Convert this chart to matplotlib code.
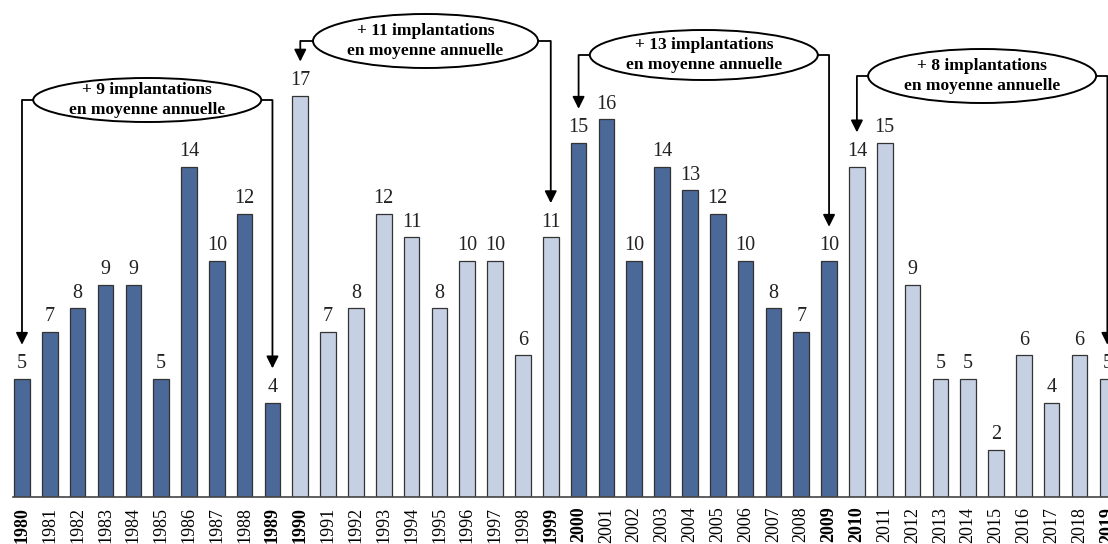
import matplotlib
matplotlib.use("Agg")
import matplotlib.pyplot as plt
from matplotlib.patches import Ellipse

years = list(range(1980, 2020))
values = [5, 7, 8, 9, 9, 5, 14, 10, 12, 4,
          17, 7, 8, 12, 11, 8, 10, 10, 6, 11,
          15, 16, 10, 14, 13, 12, 10, 8, 7, 10,
          14, 15, 9, 5, 5, 2, 6, 4, 6, 5]
bold_years = [1980, 1989, 1990, 1999, 2000, 2009, 2010, 2019]
period_labels = ["+ 9 implantations\nen moyenne annuelle",
                 "+ 11 implantations\nen moyenne annuelle",
                 "+ 13 implantations\nen moyenne annuelle",
                 "+ 8 implantations\nen moyenne annuelle"]
period_start = [1980, 1990, 2000, 2010]
period_end = [1989, 1999, 2009, 2019]

DARK = "#4A6898"
LIGHT = "#C5D0E2"

W, H = 1108, 544
fig = plt.figure(figsize=(W / 100, H / 100), dpi=100)
ax = fig.add_axes([0, 47 / H, 1, 497 / H])

px_per_x = 27.83
px_per_y = 23.6
x0 = -0.79
ax.set_xlim(x0, x0 + W / px_per_x)
ax.set_ylim(0, 497 / px_per_y)

idx = list(range(len(years)))
colors = [DARK if ((y - 1980) // 10) % 2 == 0 else LIGHT for y in years]
bars = ax.bar(idx, values, width=0.56, color=colors, edgecolor="#333333", linewidth=0.9, zorder=2)

for i, v in zip(idx, values):
    ax.annotate(str(v), (i, v), xytext=(0, 4), textcoords="offset points",
                ha="center", va="bottom", fontsize=14.5, family="Liberation Serif", color="#222222")

ax.set_xticks(idx)
ax.set_xticklabels([str(y) for y in years], rotation=90, family="Liberation Serif", fontsize=13)
for lab, y in zip(ax.get_xticklabels(), years):
    if y in bold_years:
        lab.set_fontweight("bold")
ax.tick_params(axis="x", length=0, pad=7)
ax.set_yticks([])
for s in ["left", "right", "top"]:
    ax.spines[s].set_visible(False)
ax.spines["bottom"].set_color("#444444")
ax.spines["bottom"].set_linewidth(1.2)
ax.spines["bottom"].set_bounds(-0.32, x0 + W / px_per_x)

# annotation geometry (pixel-based style settings)
ell_cy_px = [100, 41, 55, 76]
ell_w_px = [228, 225, 228, 228]
ell_h_px = [44, 54, 50, 54]
tip_offset = 1.45

for k in range(4):
    i_s = years.index(period_start[k])
    i_e = years.index(period_end[k])
    cx = (i_s + i_e) / 2
    cy = (497 - ell_cy_px[k]) / px_per_y
    w = ell_w_px[k] / px_per_x
    h = ell_h_px[k] / px_per_y
    ax.add_patch(Ellipse((cx, cy), w, h, facecolor="white", edgecolor="black",
                         linewidth=1.4, zorder=5, clip_on=False))
    ax.text(cx, cy, period_labels[k], ha="center", va="center", fontsize=12.5,
            family="Liberation Serif", fontweight="bold", linespacing=1.4, zorder=6)
    for i_b, x_e in [(i_s, cx - w / 2), (i_e, cx + w / 2)]:
        ax.plot([x_e, i_b], [cy, cy], color="black", lw=1.3, zorder=4, clip_on=False,
                solid_capstyle="butt")
        ax.annotate("", xy=(i_b, values[i_b] + tip_offset), xytext=(i_b, cy),
                    arrowprops=dict(arrowstyle="-|>,head_length=0.6,head_width=0.3",
                                    color="black", lw=1.3, shrinkA=0, shrinkB=0,
                                    mutation_scale=12),
                    zorder=4, annotation_clip=False)

fig.savefig("out.png", dpi=100)
